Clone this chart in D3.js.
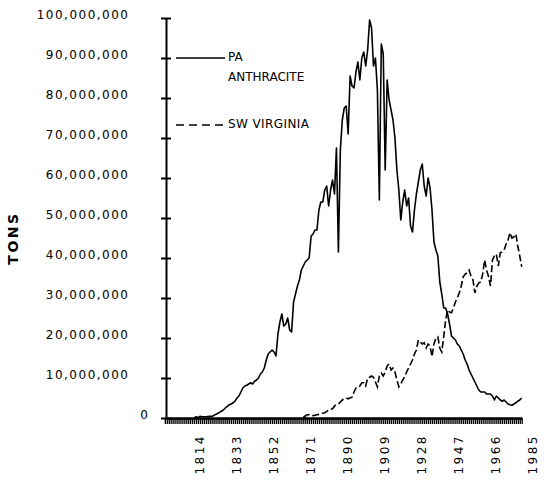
<!DOCTYPE html>
<html>
<head>
<meta charset="utf-8">
<script src="https://cdn.jsdelivr.net/npm/d3@7"></script>
<style>
  html, body { margin: 0; padding: 0; background: #fff; }
  svg { display: block; }
  text { font-family: "DejaVu Sans", sans-serif; fill: #000; }
</style>
</head>
<body>
<svg id="chart" width="546" height="480"></svg>
<script>
// ---- data (millions of tons) ----
const paStartYear = 1812;
const paTons = [
  0, 0.3, 0.1, 0.4, 0.3, 0.3, 0.3, 0.35, 0.4, 0.4,
  0.6, 0.9, 1.1, 1.4, 1.7, 2.0, 2.5, 2.9, 3.3, 3.5,
  3.8, 4.2, 5.0, 5.5, 6.5, 7.5, 8.0, 8.2, 8.5, 8.8,
  8.5, 9.2, 9.5, 10.0, 11.0, 11.5, 12.5, 14.5, 16.0, 16.5,
  17.0, 16.5, 15.5, 21.0, 24.0, 26.0, 23.0, 23.5, 25.0, 22.0,
  21.5, 29.0, 31.0, 33.0, 34.5, 37.0, 38.0, 39.0, 39.5, 40.0,
  45.5, 46.0, 47.0, 47.0, 52.0, 54.0, 54.0, 57.0, 58.0, 53.0,
  57.0, 59.5, 56.0, 67.5, 41.5, 67.0, 74.5, 77.5, 78.0, 71.0,
  85.5, 83.0, 82.5, 86.5, 89.0, 84.5, 90.0, 91.5, 88.0, 92.0,
  99.5, 97.5, 88.0, 90.0, 82.0, 54.5, 93.5, 91.0, 62.0, 84.5,
  79.5, 77.0, 74.5, 70.0, 62.0, 57.0, 49.5, 54.0, 57.0, 53.0,
  55.0, 48.0, 46.5, 52.0, 56.0, 59.0, 62.0, 63.5, 58.0, 55.5,
  60.0, 57.5, 52.0, 44.0, 42.0, 40.5, 34.0, 31.0, 27.5, 27.5,
  26.0, 23.5, 20.5, 20.0, 19.5, 18.5, 18.0, 17.0, 16.0, 14.5,
  13.5, 12.0, 11.0, 10.0, 9.0, 8.0, 7.0, 6.5, 6.5, 6.5,
  6.0, 6.0, 6.0, 5.5, 4.5, 5.5, 5.0, 4.5, 4.2, 4.5,
  4.0, 3.5, 3.3, 3.2, 3.5, 3.8, 4.2, 4.5, 5.0
];
const swStartYear = 1868;
const swTons = [
  0.2, 0.5, 0.8, 0.8, 0.5, 0.6, 0.7, 0.8, 0.9, 1.0,
  1.2, 1.3, 1.6, 2.0, 2.2, 2.3, 3.0, 3.5, 3.5, 4.0,
  4.5, 4.8, 5.0, 4.8, 5.0, 5.2, 6.5, 7.5, 7.5, 8.0,
  8.8, 8.8, 8.0, 10.0, 10.2, 10.5, 10.2, 9.0, 7.8, 10.5,
  11.2, 10.5, 11.5, 13.0, 13.5, 12.0, 12.5, 11.5, 9.5, 7.8,
  8.5, 9.5, 10.3, 11.5, 12.5, 13.5, 14.5, 16.0, 17.0, 19.5,
  19.0, 18.5, 18.8, 17.5, 18.5, 18.0, 15.3, 18.5, 20.0, 20.3,
  17.5, 16.5, 20.3, 24.5, 27.0, 26.5, 26.3, 27.5, 29.0, 30.0,
  31.3, 33.0, 35.3, 36.0, 36.3, 37.0, 35.5, 34.5, 31.3, 33.0,
  33.8, 34.0, 36.0, 39.5, 37.0, 35.3, 33.0, 39.5, 40.5, 41.0,
  38.0, 41.3, 41.5, 42.0, 43.5, 44.5, 46.3, 45.0, 45.3, 46.0,
  43.0, 40.5, 37.8
];
const yTickValues = [0, 10000000, 20000000, 30000000, 40000000, 50000000,
                     60000000, 70000000, 80000000, 90000000, 100000000];
const xLabelYears = [1814, 1833, 1852, 1871, 1890, 1909, 1928, 1947, 1966, 1985];
const seriesNames = ["PA\nANTHRACITE", "SW VIRGINIA"];
const yTitle = "TONS";

const paData = paTons.map((v, i) => ({ year: paStartYear + i, tons: v * 1e6 }));
const swData = swTons.map((v, i) => ({ year: swStartYear + i, tons: v * 1e6 }));

// ---- layout ----
const svg = d3.select("#chart");
const axisX = 166;
const x = d3.scaleLinear().domain([1797, 1980]).range([164.85, 521.7]);
const y = d3.scaleLinear().domain([0, 100000000]).range([418, 18]);

// y axis
const yAxisG = svg.append("g")
  .attr("transform", `translate(${axisX},0)`)
  .call(d3.axisLeft(y).tickValues(yTickValues).tickSizeInner(5).tickSizeOuter(0)
        .tickFormat(d3.format(",")));
yAxisG.select(".domain").attr("stroke", "#000").attr("stroke-width", 2);
yAxisG.selectAll(".tick line").attr("x1", 5).attr("stroke", "#000").attr("stroke-width", 2);
yAxisG.selectAll(".tick text")
  .attr("x", d => d === 0 ? -16.5 : -36.5)
  .attr("y", -4)
  .attr("dy", "0.35em")
  .style("font-family", '"DejaVu Sans", sans-serif')
  .style("font-size", "12px")
  .style("letter-spacing", "1.5px")
  .attr("text-anchor", "end");

// x axis: yearly minor ticks
const minorYears = d3.range(1797, 1981);
const xMinor = svg.append("g")
  .attr("transform", "translate(0,418)")
  .call(d3.axisBottom(x).tickValues(minorYears).tickSizeInner(6).tickSizeOuter(0).tickFormat(""));
xMinor.select(".domain").attr("stroke", "#000").attr("stroke-width", 2.5);
xMinor.selectAll(".tick line").attr("stroke", "#000").attr("stroke-width", 1.3);

// x axis labels
const xLab = svg.append("g")
  .attr("transform", "translate(1,418)")
  .call(d3.axisBottom(x).tickValues(xLabelYears).tickSize(0).tickFormat(d3.format("d")));
xLab.select(".domain").remove();
xLab.selectAll(".tick text")
  .attr("transform", "rotate(-90)")
  .attr("x", -16)
  .attr("y", 0)
  .attr("dy", "0.36em")
  .attr("text-anchor", "end")
  .style("font-family", '"DejaVu Sans", sans-serif')
  .style("font-size", "12px")
  .style("letter-spacing", "2.5px");

// y title
svg.append("text")
  .attr("transform", "translate(13,238) rotate(-90)")
  .attr("text-anchor", "middle")
  .attr("dy", "0.36em")
  .style("font-size", "14px")
  .style("font-weight", "bold")
  .style("letter-spacing", "2.5px")
  .text(yTitle);

// lines
const line = d3.line().x(d => x(d.year)).y(d => y(d.tons));
svg.append("path").datum(paData)
  .attr("d", line).attr("fill", "none").attr("stroke", "#000")
  .attr("stroke-width", 1.6).attr("stroke-linejoin", "round");
svg.append("path").datum(swData)
  .attr("d", line).attr("fill", "none").attr("stroke", "#000")
  .attr("stroke-width", 1.6).attr("stroke-dasharray", "7,3");

// legend
const leg = svg.append("g");
leg.append("line").attr("x1", 176).attr("x2", 225).attr("y1", 58).attr("y2", 58)
  .attr("stroke", "#000").attr("stroke-width", 1.6);
const paLines = seriesNames[0].split("\n");
leg.append("text").attr("x", 228).attr("y", 61).style("font-size", "12px").text(paLines[0]);
leg.append("text").attr("x", 228).attr("y", 81).style("font-size", "12px").text(paLines[1]);
leg.append("line").attr("x1", 176).attr("x2", 227).attr("y1", 125).attr("y2", 125)
  .attr("stroke", "#000").attr("stroke-width", 1.6).attr("stroke-dasharray", "8,5");
leg.append("text").attr("x", 228).attr("y", 128).style("font-size", "12px")
  .style("letter-spacing", "0.4px").text(seriesNames[1]);
</script>
</body>
</html>
